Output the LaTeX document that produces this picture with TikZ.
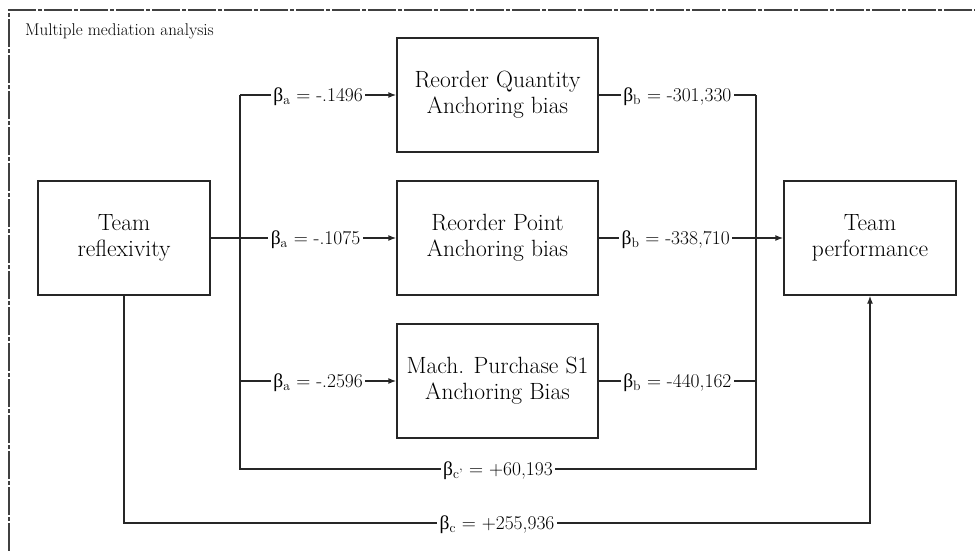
\documentclass[tikz,border=0pt]{standalone}
\usepackage{fontspec}
\newfontfamily\grkfont{Liberation Serif}
\newcommand{\bsub}[1]{{\grkfont β}\textsubscript{#1}}
\usetikzlibrary{arrows.meta}
\begin{document}
\begin{tikzpicture}[x=1pt,y=-1pt,
  box/.style={draw=black!85,line width=1.4pt,minimum width=201pt,minimum height=114pt,align=center,inner sep=0pt,font=\fontsize{23.5}{26}\selectfont},
  conn/.style={draw=black!85,line width=1.4pt},
  arr/.style={conn,-{Latex[length=8pt,width=6pt]}},
  lab/.style={fill=white,inner xsep=2.5pt,inner ysep=1pt,anchor=base,yshift=-6.5pt,font=\fontsize{19.5}{22}\selectfont}]
\useasboundingbox (0,0) rectangle (975,551);
% frame
\draw[black!75,line width=1.2pt,dash pattern=on 28pt off 2pt on 4pt off 2pt] (9,551) -- (9,10) -- (975,10);
\node[anchor=base west,inner sep=0pt,font=\fontsize{17}{19}\selectfont] (title) at (25,36) {Multiple mediation analysis};
% boxes
\node[box,minimum width=172pt,minimum height=114pt] (tr) at (124,238) {Team\\reflexivity};
\node[box] (q) at (497.5,95) {Reorder Quantity\\Anchoring bias};
\node[box] (p) at (497.5,238) {Reorder Point\\Anchoring bias};
\node[box] (m) at (497.5,381) {Mach. Purchase S1\\Anchoring Bias};
\node[box,minimum width=172pt,minimum height=114pt] (tp) at (870,238) {Team\\performance};
% junctions
\coordinate (lt) at (240,95);
\coordinate (lm) at (240,381);
\coordinate (lb) at (240,469);
\coordinate (rt) at (756,95);
\coordinate (rm) at (756,381);
\coordinate (rb) at (756,469);
\coordinate (bl) at (124,523);
\coordinate (br) at (870,523);
% connectors
\draw[conn] (lt) -- (lb) -- node[lab]{\bsub{c'} = +60,193} (rb) -- (rt);
\draw[arr] (lt) -- node[lab]{\bsub{a} = -.1496} (q.west);
\draw[arr] (tr.east) -- node[lab,pos=0.565]{\bsub{a} = -.1075} (p.west);
\draw[arr] (lm) -- node[lab]{\bsub{a} = -.2596} (m.west);
\draw[conn] (q.east) -- node[lab]{\bsub{b} = -301,330} (rt);
\draw[arr] (p.east) -- node[lab,pos=0.417]{\bsub{b} = -338,710} (tp.west);
\draw[conn] (m.east) -- node[lab]{\bsub{b} = -440,162} (rm);
\draw[arr] (tr.south) -- (bl) -- node[lab]{\bsub{c} = +255,936} (br) -- (tp.south);
\end{tikzpicture}
\end{document}
